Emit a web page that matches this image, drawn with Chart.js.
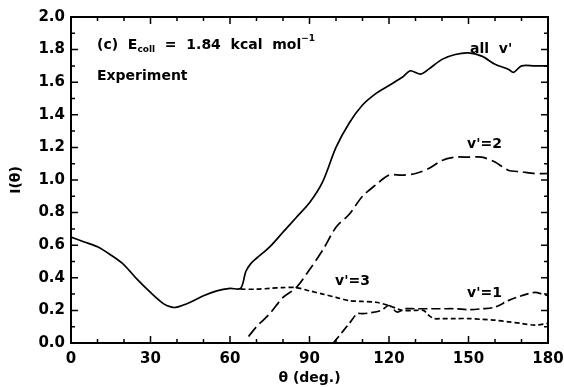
<!DOCTYPE html>
<html>
<head>
<meta charset="utf-8">
<script src="https://cdn.jsdelivr.net/npm/chart.js@4/dist/chart.umd.min.js"></script>
<style>
  html, body { margin: 0; padding: 0; background: #fff; }
  #wrap { width: 564px; height: 387px; }
</style>
</head>
<body>
<div id="wrap"><canvas id="grafico" width="564" height="387"></canvas></div>
<script>
// ================================
// DATOS: I(theta) frente a theta
// ================================

const angTodos = [0, 5, 10, 15, 20, 25, 30, 35, 38, 40, 45, 50, 55, 60, 64, 66, 68, 70, 75, 80, 85, 90, 95, 100, 105, 110, 115, 120, 125, 128, 132, 135, 140, 145, 150, 155, 160, 165, 167, 170, 175, 180];
const valTodos = [0.65, 0.62, 0.59, 0.54, 0.48, 0.39, 0.31, 0.24, 0.22, 0.22, 0.25, 0.29, 0.32, 0.335, 0.335, 0.44, 0.49, 0.52, 0.59, 0.68, 0.77, 0.86, 0.99, 1.20, 1.35, 1.46, 1.53, 1.58, 1.63, 1.67, 1.65, 1.68, 1.74, 1.77, 1.78, 1.76, 1.71, 1.68, 1.66, 1.70, 1.70, 1.70];

const angV2 = [67, 70, 75, 80, 85, 90, 95, 100, 105, 110, 115, 120, 125, 130, 135, 140, 145, 150, 155, 160, 165, 170, 175, 180];
const valV2 = [0.04, 0.10, 0.18, 0.28, 0.34, 0.45, 0.57, 0.71, 0.79, 0.90, 0.97, 1.03, 1.03, 1.04, 1.07, 1.12, 1.14, 1.14, 1.14, 1.11, 1.06, 1.05, 1.04, 1.04];

const angV3 = [64, 70, 75, 80, 85, 90, 95, 100, 105, 110, 115, 120, 125, 130, 133, 135, 137, 140, 145, 150, 155, 160, 165, 170, 175, 180];
const valV3 = [0.33, 0.33, 0.335, 0.34, 0.34, 0.32, 0.30, 0.28, 0.26, 0.255, 0.25, 0.23, 0.20, 0.20, 0.20, 0.17, 0.15, 0.15, 0.15, 0.15, 0.145, 0.14, 0.13, 0.12, 0.11, 0.12];

const angV1 = [99, 100, 105, 108, 110, 113, 117, 120, 123, 126, 130, 135, 140, 145, 150, 155, 160, 165, 170, 175, 178, 180];
const valV1 = [0.0, 0.02, 0.12, 0.18, 0.18, 0.185, 0.20, 0.23, 0.19, 0.21, 0.21, 0.21, 0.21, 0.21, 0.205, 0.21, 0.22, 0.26, 0.29, 0.31, 0.30, 0.29];

const ticksX = [0, 30, 60, 90, 120, 150, 180];
const ticksY = [0.0, 0.2, 0.4, 0.6, 0.8, 1.0, 1.2, 1.4, 1.6, 1.8, 2.0];

function puntos(xs, ys) {
    return xs.map((a, i) => ({ x: a, y: ys[i] }));
}

const fuente = "'DejaVu Sans', sans-serif";

// marco con marcas hacia dentro en los cuatro lados
const marco = {
    id: "marco",
    afterDraw(chart) {
        const { ctx, chartArea: a, scales: { x, y } } = chart;
        ctx.save();
        ctx.strokeStyle = "#000";
        ctx.lineWidth = 2;
        ctx.strokeRect(a.left, a.top, a.right - a.left, a.bottom - a.top);
        ctx.lineWidth = 1.5;
        ctx.beginPath();
        for (let v = 0; v <= 180; v += 10) {
            const px = x.getPixelForValue(v);
            const l = v % 30 === 0 ? 7 : 4;
            ctx.moveTo(px, a.bottom); ctx.lineTo(px, a.bottom - l);
            ctx.moveTo(px, a.top); ctx.lineTo(px, a.top + l);
        }
        for (let k = 0; k <= 20; k++) {
            const py = y.getPixelForValue(k / 10);
            const l = k % 2 === 0 ? 7 : 4;
            ctx.moveTo(a.left, py); ctx.lineTo(a.left + l, py);
            ctx.moveTo(a.right, py); ctx.lineTo(a.right - l, py);
        }
        ctx.stroke();

        // rótulos
        ctx.fillStyle = "#000";
        ctx.textBaseline = "alphabetic";
        let cx = 97;
        const base = 49;
        const trozo = (t, f, dy) => {
            ctx.font = f;
            ctx.fillText(t, cx, base + (dy || 0));
            cx += ctx.measureText(t).width;
        };
        trozo("(c)  E", "bold 14px " + fuente);
        trozo("coll", "bold 9px " + fuente, 3);
        trozo("  =  1.84  kcal  mol", "bold 14px " + fuente);
        trozo("\u22121", "bold 9px " + fuente, -8);

        ctx.font = "bold 14px " + fuente;
        ctx.fillText("Experiment", 97, 80);
        ctx.fillText("all  v'", 470, 53);
        ctx.fillText("v'=2", 467, 148);
        ctx.fillText("v'=3", 335, 285);
        ctx.fillText("v'=1", 467, 297);
        ctx.restore();
    }
};

const ctx = document.getElementById("grafico");

new Chart(ctx, {
    type: "line",
    data: {
        datasets: [
            { label: "all v'", data: puntos(angTodos, valTodos), borderDash: [] },
            { label: "v'=2", data: puntos(angV2, valV2), borderDash: [12, 5] },
            { label: "v'=3", data: puntos(angV3, valV3), borderDash: [5, 3] },
            { label: "v'=1", data: puntos(angV1, valV1), borderDash: [9, 4] }
        ].map(d => Object.assign(d, {
            borderColor: "#000",
            borderWidth: 1.7,
            pointRadius: 0,
            tension: 0.3,
            fill: false
        }))
    },
    options: {
        responsive: false,
        animation: false,
        layout: { padding: { top: 17, right: 16, left: 0, bottom: 0 } },
        plugins: { legend: { display: false }, tooltip: { enabled: false } },
        scales: {
            x: {
                type: "linear",
                min: 0,
                max: 180,
                afterBuildTicks: s => { s.ticks = ticksX.map(v => ({ value: v })); },
                afterFit: s => { s.height = 44; s.paddingLeft = 0; s.paddingRight = 0; },
                grid: { display: false, drawTicks: false },
                border: { display: false },
                ticks: { color: "#000", padding: 7, font: { family: fuente, size: 15, weight: "bold" }, maxRotation: 0 },
                title: { display: true, text: "\u03b8 (deg.)", color: "#000", padding: 0, font: { family: fuente, size: 14, weight: "bold" } }
            },
            y: {
                min: 0,
                max: 2,
                afterBuildTicks: s => { s.ticks = ticksY.map(v => ({ value: v })); },
                afterFit: s => { s.width = 71; s.paddingTop = 0; s.paddingBottom = 0; },
                grid: { display: false, drawTicks: false },
                border: { display: false },
                ticks: { color: "#000", padding: 6, font: { family: fuente, size: 15, weight: "bold" }, callback: v => v.toFixed(1) },
                title: { display: true, text: "I(\u03b8)", color: "#000", padding: 8, font: { family: fuente, size: 14, weight: "bold" } }
            }
        }
    },
    plugins: [marco]
});
</script>
</body>
</html>
